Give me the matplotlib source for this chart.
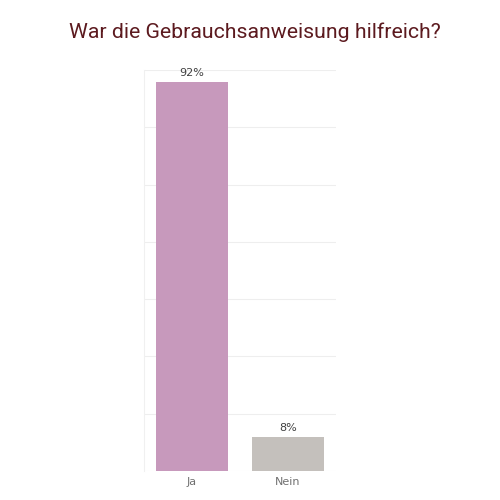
import matplotlib
matplotlib.use("Agg")
import matplotlib.pyplot as plt
import numpy as np

# values (percent of answers)
categories = ["Ja", "Nein"]
shares = [92, 8]
bar_colors = ["#C799BC", "#C4C0BC"]
title = "War die Gebrauchsanweisung hilfreich?"

fig = plt.figure(figsize=(5, 5), dpi=100)
ax = fig.add_axes([0.288, 0.058, 0.384, 0.802])

x = np.arange(len(categories))
bars = ax.bar(x, shares, width=0.75, color=bar_colors, zorder=2)

ymax = 94.8
ax.set_ylim(0, ymax)
ax.set_xlim(-0.5, 1.5)
ax.set_yticks(np.linspace(0, ymax, 8))
ax.yaxis.grid(True, color="#EEEEEE", linewidth=0.8, zorder=0)
ax.tick_params(axis="y", left=False, labelleft=False)
ax.tick_params(axis="x", bottom=False, colors="#707070", labelsize=8, pad=1)
ax.set_xticks(x)
ax.set_xticklabels(categories)

for s in ["top", "right", "bottom"]:
    ax.spines[s].set_visible(False)
ax.spines["left"].set_color("#F0F0F0")
ax.spines["left"].set_linewidth(0.8)

for b, v in zip(bars, shares):
    ax.annotate(f"{v}%", (b.get_x() + b.get_width() / 2, v),
                xytext=(0, 3), textcoords="offset points",
                ha="center", va="bottom", fontsize=8, color="#404040")

fig.text(0.51, 0.924, title, ha="center", va="baseline", fontsize=15.3,
         family="Roboto", color="#5C1A1F")

fig.savefig("out.png", dpi=100, facecolor="white")
